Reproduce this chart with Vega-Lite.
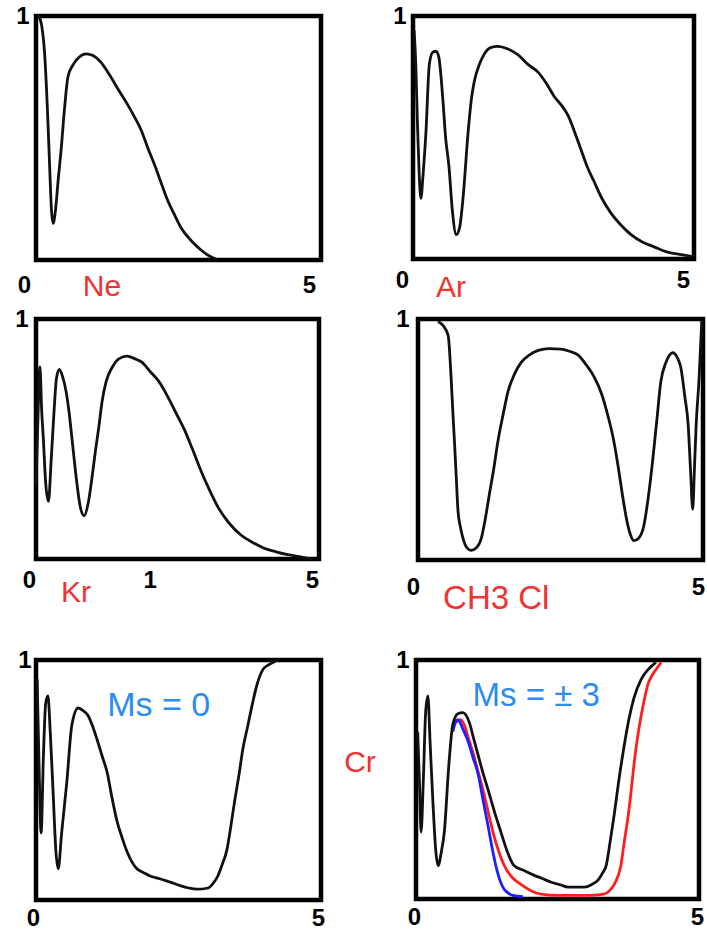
{
  "$schema": "https://vega.github.io/schema/vega-lite/v6.json",
  "padding": {"left": 12, "top": 1, "right": 4, "bottom": 4},
  "background": "white",
  "config": {
    "view": {"stroke": "black", "strokeWidth": 4.5},
    "axis": {"domain": false, "ticks": false, "grid": false, "title": null, "labelFont": "Liberation Sans", "labelFontSize": 24, "labelFontWeight": "bold", "labelColor": "black", "labelFlush": false, "labelOverlap": false},
    "line": {"color": "#111111", "strokeWidth": 2.8, "interpolate": "monotone"},
    "text": {"font": "Liberation Sans", "fontSize": 30, "color": "#f23232", "align": "left", "baseline": "middle"}
  },
  "datasets": {
    "ne": [{"x":0.05,"y":1.0},{"x":0.1,"y":0.96},{"x":0.15,"y":0.85},{"x":0.2,"y":0.62},{"x":0.24,"y":0.38},{"x":0.27,"y":0.21},{"x":0.3,"y":0.15},{"x":0.34,"y":0.2},{"x":0.39,"y":0.33},{"x":0.44,"y":0.45},{"x":0.5,"y":0.62},{"x":0.56,"y":0.75},{"x":0.65,"y":0.8},{"x":0.75,"y":0.83},{"x":0.88,"y":0.845},{"x":1.0,"y":0.838},{"x":1.14,"y":0.81},{"x":1.3,"y":0.755},{"x":1.44,"y":0.7},{"x":1.6,"y":0.64},{"x":1.72,"y":0.59},{"x":1.85,"y":0.53},{"x":1.96,"y":0.46},{"x":2.08,"y":0.39},{"x":2.19,"y":0.32},{"x":2.3,"y":0.25},{"x":2.42,"y":0.19},{"x":2.55,"y":0.13},{"x":2.72,"y":0.08},{"x":2.9,"y":0.04},{"x":3.05,"y":0.015},{"x":3.2,"y":0.0}],
    "ar": [{"x":0.02,"y":0.94},{"x":0.05,"y":0.8},{"x":0.08,"y":0.55},{"x":0.11,"y":0.35},{"x":0.14,"y":0.25},{"x":0.18,"y":0.35},{"x":0.23,"y":0.52},{"x":0.29,"y":0.8},{"x":0.35,"y":0.85},{"x":0.41,"y":0.855},{"x":0.46,"y":0.83},{"x":0.53,"y":0.66},{"x":0.58,"y":0.5},{"x":0.64,"y":0.38},{"x":0.7,"y":0.2},{"x":0.77,"y":0.1},{"x":0.83,"y":0.13},{"x":0.89,"y":0.25},{"x":0.98,"y":0.52},{"x":1.04,"y":0.66},{"x":1.09,"y":0.73},{"x":1.18,"y":0.8},{"x":1.26,"y":0.84},{"x":1.38,"y":0.87},{"x":1.51,"y":0.875},{"x":1.68,"y":0.865},{"x":1.87,"y":0.84},{"x":2.05,"y":0.8},{"x":2.22,"y":0.77},{"x":2.38,"y":0.72},{"x":2.51,"y":0.67},{"x":2.65,"y":0.63},{"x":2.76,"y":0.59},{"x":2.88,"y":0.52},{"x":2.99,"y":0.45},{"x":3.1,"y":0.38},{"x":3.22,"y":0.32},{"x":3.36,"y":0.25},{"x":3.52,"y":0.19},{"x":3.7,"y":0.14},{"x":3.88,"y":0.1},{"x":4.08,"y":0.07},{"x":4.29,"y":0.05},{"x":4.5,"y":0.03},{"x":4.72,"y":0.02},{"x":4.98,"y":0.01}],
    "kr": [{"x":0.0,"y":0.3},{"x":0.03,"y":0.55},{"x":0.07,"y":0.8},{"x":0.1,"y":0.62},{"x":0.13,"y":0.5},{"x":0.17,"y":0.32},{"x":0.22,"y":0.24},{"x":0.27,"y":0.42},{"x":0.32,"y":0.62},{"x":0.36,"y":0.75},{"x":0.41,"y":0.79},{"x":0.47,"y":0.76},{"x":0.53,"y":0.7},{"x":0.58,"y":0.62},{"x":0.65,"y":0.47},{"x":0.71,"y":0.34},{"x":0.78,"y":0.22},{"x":0.85,"y":0.18},{"x":0.92,"y":0.23},{"x":0.99,"y":0.34},{"x":1.05,"y":0.45},{"x":1.11,"y":0.55},{"x":1.17,"y":0.66},{"x":1.24,"y":0.74},{"x":1.35,"y":0.8},{"x":1.47,"y":0.835},{"x":1.61,"y":0.845},{"x":1.74,"y":0.835},{"x":1.87,"y":0.82},{"x":2.02,"y":0.78},{"x":2.17,"y":0.74},{"x":2.32,"y":0.68},{"x":2.47,"y":0.61},{"x":2.62,"y":0.54},{"x":2.76,"y":0.46},{"x":2.91,"y":0.37},{"x":3.06,"y":0.29},{"x":3.23,"y":0.21},{"x":3.41,"y":0.15},{"x":3.62,"y":0.1},{"x":3.82,"y":0.07},{"x":4.03,"y":0.045},{"x":4.24,"y":0.03},{"x":4.45,"y":0.018},{"x":4.65,"y":0.01},{"x":4.88,"y":0.0}],
    "ch3cl": [{"x":0.35,"y":0.99},{"x":0.45,"y":0.97},{"x":0.53,"y":0.93},{"x":0.58,"y":0.76},{"x":0.61,"y":0.62},{"x":0.64,"y":0.49},{"x":0.67,"y":0.35},{"x":0.7,"y":0.21},{"x":0.75,"y":0.13},{"x":0.79,"y":0.09},{"x":0.86,"y":0.05},{"x":0.93,"y":0.04},{"x":1.02,"y":0.05},{"x":1.11,"y":0.09},{"x":1.18,"y":0.17},{"x":1.25,"y":0.27},{"x":1.33,"y":0.38},{"x":1.4,"y":0.49},{"x":1.49,"y":0.6},{"x":1.58,"y":0.7},{"x":1.69,"y":0.77},{"x":1.81,"y":0.82},{"x":1.95,"y":0.85},{"x":2.11,"y":0.87},{"x":2.3,"y":0.877},{"x":2.51,"y":0.875},{"x":2.67,"y":0.865},{"x":2.81,"y":0.85},{"x":2.95,"y":0.81},{"x":3.09,"y":0.76},{"x":3.22,"y":0.69},{"x":3.33,"y":0.6},{"x":3.43,"y":0.5},{"x":3.51,"y":0.39},{"x":3.58,"y":0.28},{"x":3.65,"y":0.18},{"x":3.72,"y":0.11},{"x":3.79,"y":0.08},{"x":3.87,"y":0.09},{"x":3.96,"y":0.14},{"x":4.04,"y":0.26},{"x":4.12,"y":0.42},{"x":4.19,"y":0.58},{"x":4.26,"y":0.74},{"x":4.35,"y":0.82},{"x":4.47,"y":0.86},{"x":4.55,"y":0.84},{"x":4.61,"y":0.8},{"x":4.68,"y":0.68},{"x":4.74,"y":0.56},{"x":4.78,"y":0.38},{"x":4.82,"y":0.21},{"x":4.85,"y":0.38},{"x":4.88,"y":0.56},{"x":4.93,"y":0.75},{"x":4.96,"y":0.9},{"x":4.98,"y":1.0}],
    "cr0": [{"x":0.02,"y":0.92},{"x":0.05,"y":0.6},{"x":0.09,"y":0.28},{"x":0.13,"y":0.6},{"x":0.17,"y":0.82},{"x":0.21,"y":0.85},{"x":0.25,"y":0.7},{"x":0.3,"y":0.45},{"x":0.35,"y":0.2},{"x":0.39,"y":0.13},{"x":0.45,"y":0.28},{"x":0.54,"y":0.49},{"x":0.63,"y":0.73},{"x":0.74,"y":0.8},{"x":0.82,"y":0.79},{"x":0.91,"y":0.77},{"x":1.0,"y":0.72},{"x":1.07,"y":0.67},{"x":1.16,"y":0.6},{"x":1.25,"y":0.53},{"x":1.33,"y":0.43},{"x":1.42,"y":0.33},{"x":1.51,"y":0.26},{"x":1.6,"y":0.2},{"x":1.68,"y":0.16},{"x":1.77,"y":0.13},{"x":1.88,"y":0.115},{"x":2.0,"y":0.1},{"x":2.15,"y":0.09},{"x":2.29,"y":0.08},{"x":2.41,"y":0.07},{"x":2.53,"y":0.06},{"x":2.68,"y":0.05},{"x":2.82,"y":0.045},{"x":3.02,"y":0.05},{"x":3.11,"y":0.07},{"x":3.19,"y":0.1},{"x":3.27,"y":0.15},{"x":3.35,"y":0.21},{"x":3.42,"y":0.31},{"x":3.49,"y":0.42},{"x":3.56,"y":0.52},{"x":3.63,"y":0.63},{"x":3.71,"y":0.72},{"x":3.79,"y":0.81},{"x":3.88,"y":0.9},{"x":3.98,"y":0.96},{"x":4.08,"y":0.98},{"x":4.16,"y":0.99},{"x":4.22,"y":1.0}],
    "cr": [
      {"ms":"0","x":0.03,"y":0.7},{"ms":"0","x":0.06,"y":0.5},{"ms":"0","x":0.09,"y":0.28},{"ms":"0","x":0.13,"y":0.5},{"ms":"0","x":0.17,"y":0.78},{"ms":"0","x":0.21,"y":0.85},{"ms":"0","x":0.25,"y":0.65},{"ms":"0","x":0.3,"y":0.4},{"ms":"0","x":0.35,"y":0.2},{"ms":"0","x":0.39,"y":0.14},{"ms":"0","x":0.45,"y":0.2},{"ms":"0","x":0.5,"y":0.28},{"ms":"0","x":0.58,"y":0.56},{"ms":"0","x":0.65,"y":0.73},{"ms":"0","x":0.74,"y":0.775},{"ms":"0","x":0.83,"y":0.78},{"ms":"0","x":0.94,"y":0.74},{"ms":"0","x":1.02,"y":0.67},{"ms":"0","x":1.1,"y":0.6},{"ms":"0","x":1.18,"y":0.53},{"ms":"0","x":1.27,"y":0.46},{"ms":"0","x":1.38,"y":0.37},{"ms":"0","x":1.5,"y":0.28},{"ms":"0","x":1.61,"y":0.2},{"ms":"0","x":1.73,"y":0.14},{"ms":"0","x":1.9,"y":0.12},{"ms":"0","x":2.08,"y":0.1},{"ms":"0","x":2.24,"y":0.085},{"ms":"0","x":2.39,"y":0.07},{"ms":"0","x":2.54,"y":0.06},{"ms":"0","x":2.69,"y":0.05},{"ms":"0","x":2.83,"y":0.05},{"ms":"0","x":2.97,"y":0.05},{"ms":"0","x":3.1,"y":0.06},{"ms":"0","x":3.22,"y":0.08},{"ms":"0","x":3.3,"y":0.11},{"ms":"0","x":3.36,"y":0.14},{"ms":"0","x":3.43,"y":0.24},{"ms":"0","x":3.5,"y":0.35},{"ms":"0","x":3.58,"y":0.49},{"ms":"0","x":3.67,"y":0.63},{"ms":"0","x":3.76,"y":0.75},{"ms":"0","x":3.85,"y":0.84},{"ms":"0","x":3.98,"y":0.92},{"ms":"0","x":4.1,"y":0.96},{"ms":"0","x":4.19,"y":0.98},{"ms":"0","x":4.24,"y":0.99},
      {"ms":"+3","x":0.71,"y":0.74},{"ms":"+3","x":0.78,"y":0.75},{"ms":"+3","x":0.85,"y":0.73},{"ms":"+3","x":0.93,"y":0.67},{"ms":"+3","x":1.01,"y":0.61},{"ms":"+3","x":1.1,"y":0.53},{"ms":"+3","x":1.18,"y":0.46},{"ms":"+3","x":1.27,"y":0.37},{"ms":"+3","x":1.36,"y":0.28},{"ms":"+3","x":1.46,"y":0.2},{"ms":"+3","x":1.56,"y":0.14},{"ms":"+3","x":1.7,"y":0.09},{"ms":"+3","x":1.86,"y":0.06},{"ms":"+3","x":2.03,"y":0.035},{"ms":"+3","x":2.21,"y":0.02},{"ms":"+3","x":2.5,"y":0.015},{"ms":"+3","x":2.79,"y":0.015},{"ms":"+3","x":3.05,"y":0.015},{"ms":"+3","x":3.32,"y":0.02},{"ms":"+3","x":3.42,"y":0.035},{"ms":"+3","x":3.5,"y":0.06},{"ms":"+3","x":3.56,"y":0.09},{"ms":"+3","x":3.62,"y":0.14},{"ms":"+3","x":3.68,"y":0.24},{"ms":"+3","x":3.75,"y":0.35},{"ms":"+3","x":3.8,"y":0.45},{"ms":"+3","x":3.85,"y":0.56},{"ms":"+3","x":3.91,"y":0.67},{"ms":"+3","x":3.98,"y":0.77},{"ms":"+3","x":4.04,"y":0.84},{"ms":"+3","x":4.1,"y":0.9},{"ms":"+3","x":4.17,"y":0.935},{"ms":"+3","x":4.24,"y":0.96},{"ms":"+3","x":4.33,"y":0.99},
      {"ms":"-3","x":0.65,"y":0.7},{"ms":"-3","x":0.7,"y":0.74},{"ms":"-3","x":0.74,"y":0.75},{"ms":"-3","x":0.83,"y":0.71},{"ms":"-3","x":0.92,"y":0.66},{"ms":"-3","x":1.01,"y":0.59},{"ms":"-3","x":1.1,"y":0.52},{"ms":"-3","x":1.18,"y":0.42},{"ms":"-3","x":1.27,"y":0.31},{"ms":"-3","x":1.34,"y":0.22},{"ms":"-3","x":1.41,"y":0.14},{"ms":"-3","x":1.48,"y":0.08},{"ms":"-3","x":1.56,"y":0.04},{"ms":"-3","x":1.63,"y":0.025},{"ms":"-3","x":1.71,"y":0.015},{"ms":"-3","x":1.89,"y":0.01}
    ]
  },
  "spacing": 27,
  "vconcat": [
    {
      "spacing": -2,
      "vconcat": [
        {
          "bounds": "flush",
          "spacing": 92,
          "hconcat": [
            {
              "width": 285, "height": 244,
              "layer": [
                {"data": {"name": "ne"}, "mark": "line",
                 "encoding": {
                   "x": {"field": "x", "type": "quantitative", "scale": {"domain": [0, 5], "nice": false, "zero": false}, "axis": {"values": [0, 5], "format": "d", "labelOffset": -12, "labelPadding": 13}},
                   "y": {"field": "y", "type": "quantitative", "scale": {"domain": [0, 1], "nice": false}, "axis": {"values": [1], "format": "d", "labelPadding": 7}}}},
                {"data": {"values": [{"name": "Ne"}]}, "mark": {"type": "text"},
                 "encoding": {"x": {"datum": 0.82}, "y": {"datum": -0.11}, "text": {"field": "name"}}}
              ]
            },
            {
              "width": 281, "height": 243,
              "layer": [
                {"data": {"name": "ar"}, "mark": "line",
                 "encoding": {
                   "x": {"field": "x", "type": "quantitative", "scale": {"domain": [0, 5], "nice": false, "zero": false}, "axis": {"values": [0, 5], "format": "d", "labelOffset": -11, "labelPadding": 9}},
                   "y": {"field": "y", "type": "quantitative", "scale": {"domain": [0, 1], "nice": false}, "axis": {"values": [1], "format": "d", "labelPadding": 7}}}},
                {"data": {"values": [{"name": "Ar"}]}, "mark": {"type": "text"},
                 "encoding": {"x": {"datum": 0.41}, "y": {"datum": -0.12}, "text": {"field": "name"}}}
              ]
            }
          ]
        },
        {
          "bounds": "flush",
          "spacing": 99,
          "hconcat": [
            {
              "width": 283, "height": 240,
              "layer": [
                {"data": {"name": "kr"}, "mark": "line",
                 "encoding": {
                   "x": {"field": "x", "type": "quantitative", "scale": {"domain": [0, 5], "nice": false, "zero": false}, "axis": {"values": [0, 2.13, 5], "format": "d", "labelExpr": "datum.value > 1 && datum.value < 3 ? '1' : datum.label", "labelOffset": -7, "labelPadding": 9}},
                   "y": {"field": "y", "type": "quantitative", "scale": {"domain": [0, 1], "nice": false}, "axis": {"values": [1], "format": "d", "labelPadding": 8}}}},
                {"data": {"values": [{"name": "Kr"}]}, "mark": {"type": "text"},
                 "encoding": {"x": {"datum": 0.44}, "y": {"datum": -0.14}, "text": {"field": "name"}}}
              ]
            },
            {
              "width": 285, "height": 241,
              "layer": [
                {"data": {"name": "ch3cl"}, "mark": "line",
                 "encoding": {
                   "x": {"field": "x", "type": "quantitative", "scale": {"domain": [0, 5], "nice": false, "zero": false}, "axis": {"values": [0, 5], "format": "d", "labelOffset": -5, "labelPadding": 15}},
                   "y": {"field": "y", "type": "quantitative", "scale": {"domain": [0, 1], "nice": false}, "axis": {"values": [1], "format": "d", "labelPadding": 9}}}},
                {"data": {"values": [{"name": "CH3 Cl"}]}, "mark": {"type": "text", "fontSize": 33},
                 "encoding": {"x": {"datum": 0.44}, "y": {"datum": -0.16}, "text": {"field": "name"}}}
              ]
            }
          ]
        }
      ]
    },
    {
      "bounds": "flush",
      "spacing": 95,
      "hconcat": [
        {
          "width": 285, "height": 240,
          "layer": [
            {"data": {"name": "cr0"}, "mark": "line",
             "encoding": {
               "x": {"field": "x", "type": "quantitative", "scale": {"domain": [0, 5], "nice": false, "zero": false}, "axis": {"values": [0, 5], "format": "d", "labelOffset": -3, "labelPadding": 6}},
               "y": {"field": "y", "type": "quantitative", "scale": {"domain": [0, 1], "nice": false}, "axis": {"values": [1], "format": "d", "labelPadding": 5}}}},
            {"data": {"values": [{"name": "Ms = 0"}]}, "mark": {"type": "text", "color": "#2a8cf0", "fontSize": 34},
             "encoding": {"x": {"datum": 1.25}, "y": {"datum": 0.81}, "text": {"field": "name"}}}
          ]
        },
        {
          "width": 283, "height": 239,
          "layer": [
            {"data": {"name": "cr"}, "transform": [{"filter": "datum.ms == '+3'"}], "mark": {"type": "line", "color": "#ff1e1e"},
             "encoding": {
               "x": {"field": "x", "type": "quantitative", "scale": {"domain": [0, 5], "nice": false, "zero": false}, "axis": {"values": [0, 5], "format": "d", "labelOffset": -2, "labelPadding": 6}},
               "y": {"field": "y", "type": "quantitative", "scale": {"domain": [0, 1], "nice": false}, "axis": {"values": [1], "format": "d", "labelPadding": 7}}}},
            {"data": {"name": "cr"}, "transform": [{"filter": "datum.ms == '-3'"}], "mark": {"type": "line", "color": "#1e1eff"},
             "encoding": {"x": {"field": "x", "type": "quantitative"}, "y": {"field": "y", "type": "quantitative"}}},
            {"data": {"name": "cr"}, "transform": [{"filter": "datum.ms == '0'"}], "mark": {"type": "line"},
             "encoding": {"x": {"field": "x", "type": "quantitative"}, "y": {"field": "y", "type": "quantitative"}}},
            {"data": {"values": [{"name": "Ms = ± 3"}]}, "mark": {"type": "text", "color": "#2a8cf0", "fontSize": 33},
             "encoding": {"x": {"datum": 1.0}, "y": {"datum": 0.85}, "text": {"field": "name"}}},
            {"data": {"values": [{"name": "Cr"}]}, "mark": {"type": "text", "align": "right"},
             "encoding": {"x": {"datum": -0.71}, "y": {"datum": 0.57}, "text": {"field": "name"}}}
          ]
        }
      ]
    }
  ]
}
